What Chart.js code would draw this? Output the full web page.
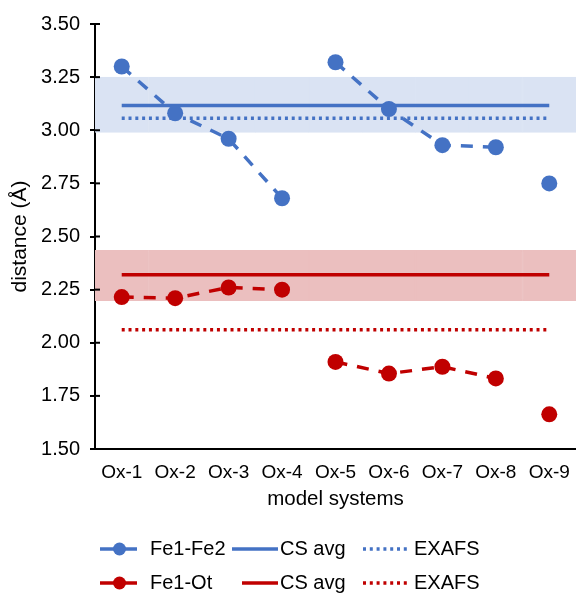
<!DOCTYPE html>
<html>
<head>
<meta charset="utf-8">
<script src="https://cdn.jsdelivr.net/npm/chart.js@4"></script>
<style>
  html, body { margin: 0; padding: 0; background: #fff; }
  #wrap { width: 576px; height: 593px; }
</style>
</head>
<body>
<div id="wrap"><canvas id="chart" width="576" height="593"></canvas></div>
<script>
// Data
const labels = ['Ox-1', 'Ox-2', 'Ox-3', 'Ox-4', 'Ox-5', 'Ox-6', 'Ox-7', 'Ox-8', 'Ox-9'];
const groups = [1, 1, 1, 1, 2, 2, 2, 2, 3];  // points joined by dashed lines
const feFe = [3.30, 3.08, 2.96, 2.68, 3.32, 3.10, 2.93, 2.92, 2.75];
const feOt = [2.215, 2.21, 2.26, 2.25, 1.91, 1.855, 1.887, 1.832, 1.663];
const csAvgFeFe = 3.117;
const exafsFeFe = 3.056;
const bandFeFe = [2.99, 3.25];
const csAvgFeOt = 2.32;
const exafsFeOt = 2.061;
const bandFeOt = [2.198, 2.435];

const BLUE = '#4472C4';
const RED = '#C00000';
const FONT = 'Liberation Sans, Arial, sans-serif';

Chart.defaults.font.family = FONT;
Chart.defaults.font.size = 20;
Chart.defaults.color = '#000';

const flat = v => labels.map(() => v);
const band = b => labels.map(() => b);

// hide segments between separate groups
const splitSegment = ctx => groups[ctx.p0DataIndex] !== groups[ctx.p1DataIndex] ? 'rgba(0,0,0,0)' : undefined;

function seriesDs(label, data, color) {
    return {
        type: 'line', label, data, order: 0,
        borderColor: color, backgroundColor: color,
        borderWidth: 3.5, borderDash: [12, 10],
        pointRadius: 8, pointHoverRadius: 8, pointBorderWidth: 0,
        segment: { borderColor: splitSegment },
        fill: false, tension: 0
    };
}
function refDs(label, data, color, dotted) {
    return {
        type: 'line', label, data, order: 1,
        borderColor: color, borderWidth: 3.5,
        borderDash: dotted ? [3, 3.8] : [],
        pointRadius: 0, fill: false
    };
}
function bandDs(label, data, color) {
    return {
        type: 'bar', label, data, order: 5,
        backgroundColor: color, borderColor: color, borderWidth: 1,
        borderSkipped: false, barPercentage: 1, categoryPercentage: 1,
        grouped: false
    };
}

// legend drawn under the plot, Excel style
const legendPlugin = {
    id: 'xlLegend',
    afterDraw(chart) {
        const ctx = chart.ctx;
        const ds = chart.data.datasets;
        const rows = [
            { y: 549, items: [[0, 100, 137, 150, 'marker'], [2, 232, 278, 280, 'solid'], [3, 363, 407, 414, 'dot']] },
            { y: 583, items: [[1, 100, 137, 150, 'marker'], [4, 242, 278, 280, 'solid'], [5, 363, 407, 414, 'dot']] }
        ];
        ctx.save();
        ctx.font = '20px ' + FONT;
        ctx.textBaseline = 'middle';
        rows.forEach(r => {
            r.items.forEach(([i, x0, x1, tx, kind]) => {
                const d = ds[i];
                ctx.strokeStyle = d.borderColor;
                ctx.lineWidth = 3.5;
                ctx.setLineDash(kind === 'dot' ? [3, 3.8] : []);
                ctx.beginPath();
                ctx.moveTo(x0, r.y);
                ctx.lineTo(x1, r.y);
                ctx.stroke();
                if (kind === 'marker') {
                    ctx.fillStyle = d.borderColor;
                    ctx.beginPath();
                    ctx.arc((x0 + x1) / 2 + 1, r.y, 6.5, 0, Math.PI * 2);
                    ctx.fill();
                }
                ctx.fillStyle = '#000';
                ctx.fillText(d.label, tx, r.y);
            });
        });
        ctx.restore();
    }
};

// y tick marks crossing the axis (inner half)
const innerTicks = {
    id: 'innerTicks',
    afterDatasetsDraw(chart) {
        const y = chart.scales.y;
        const ctx = chart.ctx;
        ctx.save();
        ctx.strokeStyle = '#000';
        ctx.lineWidth = 2;
        y.ticks.forEach(t => {
            const py = y.getPixelForValue(t.value);
            ctx.beginPath();
            ctx.moveTo(y.right, py);
            ctx.lineTo(y.right + 5, py);
            ctx.stroke();
        });
        ctx.restore();
    }
};

new Chart(document.getElementById('chart'), {
    data: {
        labels,
        datasets: [
            seriesDs('Fe1-Fe2', feFe, BLUE),
            seriesDs('Fe1-Ot', feOt, RED),
            refDs('CS avg', flat(csAvgFeFe), BLUE, false),
            refDs('EXAFS', flat(exafsFeFe), BLUE, true),
            refDs('CS avg', flat(csAvgFeOt), RED, false),
            refDs('EXAFS', flat(exafsFeOt), RED, true),
            bandDs('CS range Fe1-Fe2', band(bandFeFe), '#DAE3F3'),
            bandDs('CS range Fe1-Ot', band(bandFeOt), '#EBBFBF')
        ]
    },
    options: {
        responsive: false,
        animation: false,
        layout: { autoPadding: false, padding: { top: 24, right: 0, bottom: 81, left: 0 } },
        plugins: { legend: { display: false }, tooltip: { enabled: false } },
        scales: {
            x: {
                offset: true,
                grid: { display: false },
                border: { display: true, color: '#000', width: 2 },
                ticks: { padding: 4, color: '#000', maxRotation: 0, autoSkip: false, font: { size: 19 } },
                title: { display: true, text: 'model systems', color: '#000', font: { size: 20.5 }, padding: { top: 0, bottom: 0 } },
                afterFit: s => { s.height = 63; s.paddingLeft = 0; s.paddingRight = 0; }
            },
            y: {
                min: 1.5, max: 3.5,
                grid: { drawOnChartArea: false, drawTicks: true, tickLength: 5, color: '#000', lineWidth: 2 },
                border: { display: true, color: '#000', width: 2 },
                ticks: { stepSize: 0.25, padding: 10, color: '#000', callback: v => v.toFixed(2) },
                title: { display: true, text: 'distance (Å)', color: '#000', font: { size: 21 }, padding: { top: 8, bottom: 0 } },
                afterFit: s => { s.width = 95; }
            }
        }
    },
    plugins: [legendPlugin, innerTicks]
});
</script>
</body>
</html>
